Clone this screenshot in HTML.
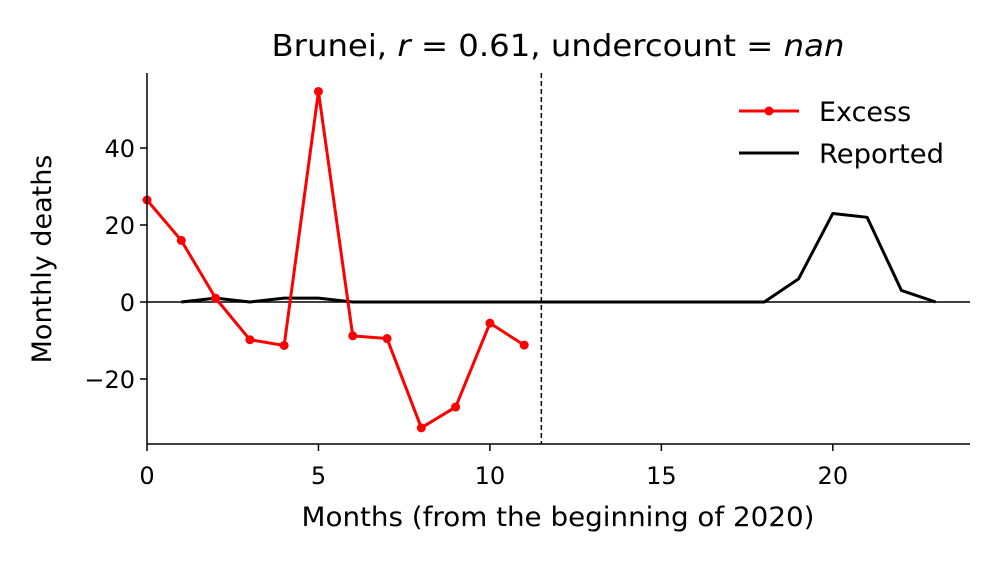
<!DOCTYPE html>
<html><head><meta charset="utf-8"><style>
body{margin:0;background:#fff;}
svg text{font-family:"DejaVu Sans","Liberation Sans",sans-serif;fill:#000;}
</style></head><body>
<svg id="chart" width="1000" height="562" xmlns="http://www.w3.org/2000/svg">
<text x="558" y="56" font-size="30" text-anchor="middle" textLength="573" lengthAdjust="spacingAndGlyphs">Brunei, <tspan font-style="italic">r</tspan> = 0.61, undercount = <tspan font-style="italic">nan</tspan></text>
<text x="558" y="526" font-size="27" text-anchor="middle" textLength="513" lengthAdjust="spacingAndGlyphs">Months (from the beginning of 2020)</text>
<text transform="translate(51,259) rotate(-90)" font-size="27" text-anchor="middle">Monthly deaths</text>
<g id="plot"></g>
<g>
<line x1="739" y1="111" x2="799" y2="111" stroke="#ff0000" stroke-width="3"/>
<circle cx="769" cy="111" r="4.5" fill="#ff0000"/>
<text x="819" y="121" font-size="27">Excess</text>
<line x1="739" y1="153" x2="799" y2="153" stroke="#000" stroke-width="3"/>
<text x="819" y="163" font-size="27" textLength="125" lengthAdjust="spacingAndGlyphs">Reported</text>
</g>
</svg>
<script>
const excessX=[0,1,2,3,4,5,6,7,8,9,10,11];
const excessY=[26.5,16,1,-9.8,-11.3,54.7,-8.8,-9.5,-32.7,-27.3,-5.5,-11.2];
const reportedX=[1,2,3,4,5,6,7,8,9,10,11,12,13,14,15,16,17,18,19,20,21,22,23];
const reportedY=[0,1,0,1,1,0,0,0,0,0,0,0,0,0,0,0,0,0,6,23,22,3,0];
const xTicks=[0,5,10,15,20];
const yTicks=[-20,0,20,40];
const yTickLabels=["\u221220","0","20","40"];
const ns="http://www.w3.org/2000/svg";
const X0=147,X1=970,xmin=0,xmax=24,Y0=444,Y1=73,ymin=-36.9,ymax=59.5;
const sx=v=>X0+(v-xmin)/(xmax-xmin)*(X1-X0);
const sy=v=>Y0-(v-ymin)/(ymax-ymin)*(Y0-Y1);
const g=document.getElementById('plot');
function mk(t,a){const e=document.createElementNS(ns,t);for(const k in a)e.setAttribute(k,a[k]);g.appendChild(e);return e;}
let e;
e=mk('line',{x1:X0,x2:X1,y1:sy(0),y2:sy(0),stroke:'#000','stroke-width':1.5});


e=mk('line',{x1:sx(11.5),x2:sx(11.5),y1:Y1,y2:Y0,stroke:'#000','stroke-width':1.5,'stroke-dasharray':'5,3'});


e=mk('polyline',{points:reportedX.map((x,i)=>sx(x)+','+sy(reportedY[i])).join(' '),fill:'none',stroke:'#000','stroke-width':3,'stroke-linejoin':'round'});


e=mk('polyline',{points:excessX.map((x,i)=>sx(x)+','+sy(excessY[i])).join(' '),fill:'none',stroke:'#ff0000','stroke-width':3,'stroke-linejoin':'round'});


excessX.forEach((x,i)=>{const c=mk('circle',{cx:sx(x),cy:sy(excessY[i]),r:4.5,fill:'#ff0000'});

});
e=mk('line',{x1:X0,x2:X0,y1:Y1,y2:Y0,stroke:'#000','stroke-width':1.5});


e=mk('line',{x1:X0,x2:X1,y1:Y0,y2:Y0,stroke:'#000','stroke-width':1.5});


xTicks.forEach(t=>{mk('line',{x1:sx(t),x2:sx(t),y1:Y0,y2:Y0+7,stroke:'#000','stroke-width':1.5});
const tx=mk('text',{x:sx(t),y:Y0+40,'font-size':24,'text-anchor':'middle'});tx.textContent=t;

});
yTicks.forEach((t,i)=>{mk('line',{x1:X0-7,x2:X0,y1:sy(t),y2:sy(t),stroke:'#000','stroke-width':1.5});
const tx=mk('text',{x:X0-12,y:sy(t)+9,'font-size':24,'text-anchor':'end'});tx.textContent=yTickLabels[i];

});
</script>
</body></html>
